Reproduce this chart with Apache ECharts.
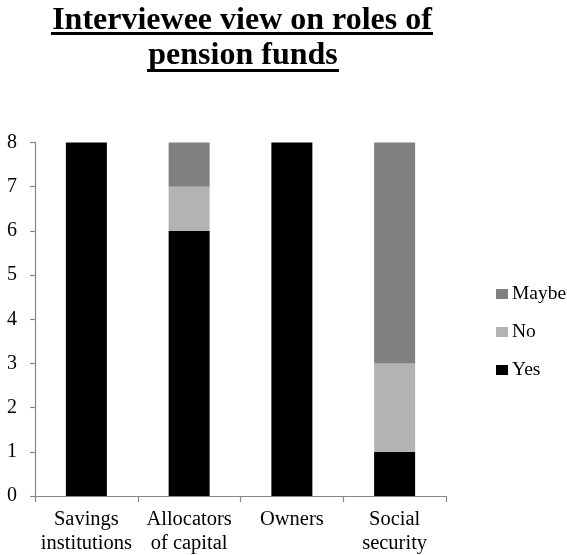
<!DOCTYPE html>
<html>
<head>
<meta charset="utf-8">
<script src="https://cdn.jsdelivr.net/npm/echarts@6/dist/echarts.min.js"></script>
<style>
html, body { margin: 0; padding: 0; background: #fff; }
#chart { width: 567px; height: 555px; }
</style>
</head>
<body>
<div id="chart"></div>
<script>
// Roles of pension funds as seen by interviewees (counts of answers)
const categories = ['Savings\ninstitutions', 'Allocators\nof capital', 'Owners', 'Social\nsecurity'];
const yesValues = [8, 6, 8, 1];
const noValues = [0, 1, 0, 2];
const maybeValues = [0, 1, 0, 5];
const yTicks = { min: 0, max: 8, interval: 1 };

const serif = '"Liberation Serif", "Times New Roman", serif';
const chart = echarts.init(document.getElementById('chart'));

function barSeries(name, data, color) {
  return {
    name: name,
    type: 'bar',
    stack: 'total',
    barWidth: 41,
    data: data,
    itemStyle: { color: color },
    emphasis: { disabled: true }
  };
}

chart.setOption({
  animation: false,
  backgroundColor: '#fff',
  grid: { left: 35, right: 121, top: 142.5, bottom: 59, outerBoundsMode: 'none' },
  graphic: [
    { type: 'text', style: {
        x: 242, y: 21, text: 'Interviewee view on roles of', textAlign: 'center', textVerticalAlign: 'middle',
        font: 'bold 32px ' + serif, fill: '#000' } },
    { type: 'text', style: {
        x: 243, y: 56, text: 'pension funds', textAlign: 'center', textVerticalAlign: 'middle',
        font: 'bold 32px ' + serif, fill: '#000' } },
    { type: 'line', shape: { x1: 51, y1: 33.5, x2: 433, y2: 33.5 }, style: { stroke: '#000', lineWidth: 3 } },
    { type: 'line', shape: { x1: 147, y1: 70.5, x2: 339, y2: 70.5 }, style: { stroke: '#000', lineWidth: 3 } }
  ],
  legend: {
    orient: 'vertical',
    left: 491,
    top: 279,
    data: ['Maybe', 'No', 'Yes'],
    itemWidth: 12,
    itemHeight: 10,
    itemGap: 18,
    icon: 'rect',
    selectedMode: false,
    textStyle: { fontFamily: serif, fontSize: 19.5, lineHeight: 20, color: '#000', padding: [0, 0, 0, -1] }
  },
  xAxis: {
    type: 'category',
    data: categories,
    boundaryGap: true,
    axisLine: { lineStyle: { color: '#878787', width: 1.2 } },
    axisTick: { show: true, alignWithLabel: false, length: 6, lineStyle: { color: '#878787', width: 1.2 } },
    axisLabel: { fontFamily: serif, fontSize: 20.5, color: '#000', margin: 12, lineHeight: 24, interval: 0 }
  },
  yAxis: {
    type: 'value',
    min: yTicks.min,
    max: yTicks.max,
    interval: yTicks.interval,
    axisLine: { show: true, lineStyle: { color: '#878787', width: 1.2 } },
    axisTick: { show: true, length: 5, lineStyle: { color: '#878787', width: 1.2 } },
    splitLine: { show: false },
    axisLabel: { fontFamily: serif, fontSize: 20, color: '#000', margin: 18 }
  },
  series: [
    barSeries('Yes', yesValues, '#000000'),
    barSeries('No', noValues, '#b3b3b3'),
    barSeries('Maybe', maybeValues, '#808080')
  ]
});
</script>
</body>
</html>
